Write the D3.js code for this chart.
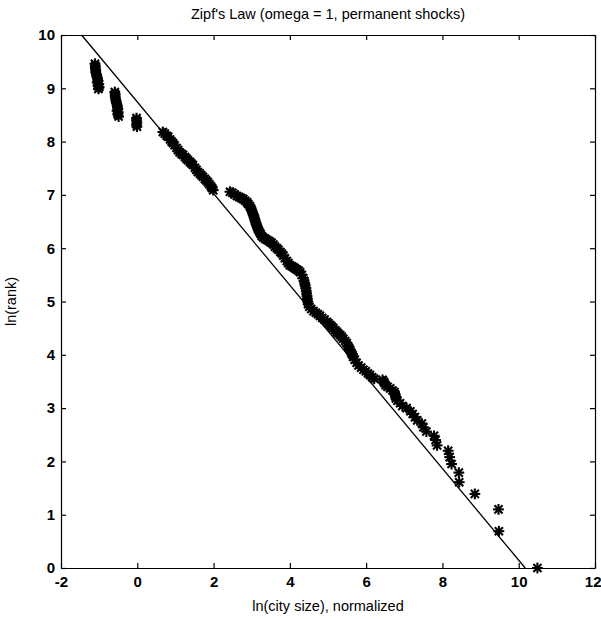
<!DOCTYPE html>
<meta charset="utf-8">
<head>
  <title>Zipf's Law</title>
  <script src="https://cdn.jsdelivr.net/npm/d3@7"></script>
  <style>
    body {
      margin: 0;
      background-color: white;
      font-family: "Liberation Sans", Arial, Helvetica, sans-serif;
    }
    .axis text {
      font-family: "Liberation Sans", Arial, sans-serif;
      font-size: 15px;
      font-weight: bold;
      fill: black;
    }
    .axis path, .axis line {
      stroke: black;
      stroke-width: 1.2;
    }
    .title, .label {
      font-size: 14.5px;
      fill: black;
    }
    .fit {
      fill: none;
      stroke: black;
      stroke-width: 1.3;
    }
    .star line {
      stroke: black;
      stroke-width: 2.1;
    }
  </style>
</head>
<body>
<script>
  // ln(city size), normalized  (x) and ln(rank) (y)
  var lnSize = [
    -1.11, -1.10, -1.10, -1.09, -1.09, -1.07, -1.06, -1.04, -1.03, -1.05, -1.01, -1.03, -1.00, -1.02,
    -0.59, -0.58, -0.58, -0.57, -0.56, -0.55, -0.53, -0.52, -0.51, -0.53, -0.50, -0.51, -0.49,
    -0.02, -0.02, -0.01, -0.02, -0.01,
    0.67, 0.72, 0.77, 0.81, 0.86, 0.90, 0.94, 0.98, 1.03, 1.07, 1.11, 1.16, 1.20, 1.25, 1.29, 1.33,
    1.38, 1.42, 1.46, 1.51, 1.55, 1.59, 1.64, 1.68, 1.72, 1.77, 1.81, 1.85, 1.89, 1.93, 1.96, 1.99,
    2.43, 2.49, 2.55, 2.61, 2.67, 2.73, 2.78, 2.83, 2.88, 2.91, 2.95, 2.98, 3.00, 3.02, 3.04, 3.06,
    3.08, 3.09, 3.11, 3.13, 3.15, 3.17, 3.20, 3.23, 3.26, 3.30, 3.35, 3.39, 3.44, 3.48, 3.52, 3.57,
    3.61, 3.66, 3.70, 3.75, 3.79, 3.83, 3.87, 3.92, 3.96, 4.00, 4.05, 4.10, 4.14, 4.18, 4.23, 4.27,
    4.31, 4.35, 4.37, 4.39, 4.40, 4.42, 4.43, 4.44, 4.45, 4.46, 4.47, 4.48, 4.51, 4.56, 4.62, 4.68,
    4.74, 4.79, 4.85, 4.91, 4.97, 5.01, 5.06, 5.10, 5.14, 5.19, 5.23, 5.27, 5.32, 5.36, 5.40, 5.45,
    5.49, 5.52, 5.55, 5.58, 5.61, 5.64, 5.66, 5.70, 5.75, 5.80, 5.87, 5.93, 5.99, 6.05, 6.10, 6.16,
    6.21,
    6.43, 6.46, 6.48, 6.51, 6.56, 6.63, 6.69, 6.74, 6.76, 6.77, 6.78, 6.82, 6.89, 6.95, 7.06, 7.16,
    7.22, 7.28, 7.34, 7.46, 7.50, 7.58, 7.78, 7.82, 7.86, 8.15, 8.19, 8.24, 8.43, 8.44, 8.85, 9.47,
    9.48, 10.49
  ];
  var lnRank = [
    9.46, 9.42, 9.38, 9.34, 9.30, 9.26, 9.22, 9.18, 9.14, 9.11, 9.08, 9.05, 9.02, 8.99,
    8.93, 8.89, 8.85, 8.81, 8.77, 8.73, 8.69, 8.65, 8.61, 8.58, 8.55, 8.51, 8.47,
    8.44, 8.40, 8.36, 8.32, 8.28,
    8.18, 8.15, 8.11, 8.09, 8.04, 8.00, 7.97, 7.93, 7.88, 7.84, 7.80, 7.77, 7.75, 7.71, 7.68, 7.65,
    7.62, 7.59, 7.56, 7.51, 7.47, 7.43, 7.40, 7.37, 7.34, 7.30, 7.27, 7.24, 7.20, 7.16, 7.13, 7.09,
    7.06, 7.04, 7.01, 6.98, 6.96, 6.94, 6.92, 6.89, 6.86, 6.83, 6.79, 6.75, 6.71, 6.67, 6.63, 6.59,
    6.55, 6.51, 6.47, 6.43, 6.39, 6.35, 6.31, 6.27, 6.23, 6.20, 6.18, 6.16, 6.14, 6.12, 6.10, 6.07,
    6.03, 6.00, 5.97, 5.93, 5.90, 5.86, 5.81, 5.76, 5.72, 5.68, 5.66, 5.64, 5.62, 5.60, 5.58, 5.55,
    5.50, 5.44, 5.39, 5.34, 5.30, 5.25, 5.20, 5.15, 5.10, 5.05, 5.00, 4.95, 4.90, 4.86, 4.82, 4.79,
    4.76, 4.73, 4.69, 4.66, 4.62, 4.59, 4.56, 4.53, 4.50, 4.46, 4.43, 4.40, 4.37, 4.34, 4.30, 4.26,
    4.22, 4.17, 4.13, 4.09, 4.04, 4.00, 3.96, 3.91, 3.85, 3.80, 3.76, 3.72, 3.69, 3.65, 3.62, 3.58,
    3.55,
    3.53, 3.50, 3.47, 3.43, 3.40, 3.37, 3.33, 3.30, 3.26, 3.22, 3.18, 3.14, 3.09, 3.04, 3.00, 2.94,
    2.89, 2.83, 2.77, 2.71, 2.64, 2.56, 2.48, 2.40, 2.30, 2.20, 2.08, 1.95, 1.79, 1.61, 1.39, 1.10,
    0.69, 0.00
  ];

  // fitted Zipf line, two end points
  var fitSize = [-1.46, 10.17];
  var fitRank = [10, 0];

  var xTicks = [-2, 0, 2, 4, 6, 8, 10, 12];
  var yTicks = [0, 1, 2, 3, 4, 5, 6, 7, 8, 9, 10];

  var margin = {top: 35, right: 6, bottom: 51, left: 61};
  var width = 601 - margin.left - margin.right;
  var height = 619 - margin.top - margin.bottom;

  var svg = d3.select("body").append("svg")
    .attr("width", 601)
    .attr("height", 619)
    .append("g")
    .attr("transform", "translate(" + margin.left + "," + margin.top + ")");

  var x = d3.scaleLinear().domain([-2, 12]).range([0, width]);
  var y = d3.scaleLinear().domain([0, 10]).range([height, 0]);

  // plain hyphen like the original, not a unicode minus
  var fmt = function(d) { return String(d); };

  // MATLAB style box with ticks pointing in
  var xAxis = svg.append("g")
    .attr("class", "axis")
    .attr("transform", "translate(0," + height + ")")
    .call(d3.axisBottom(x).tickValues(xTicks).tickSizeInner(-5).tickSizeOuter(0).tickPadding(8).tickFormat(fmt));

  // last label sits against the page edge
  xAxis.selectAll(".tick text")
    .filter(function(d) { return d === 12; })
    .attr("text-anchor", "end")
    .attr("x", 6);

  svg.append("g")
    .attr("class", "axis")
    .call(d3.axisLeft(y).tickValues(yTicks).tickSizeInner(-5).tickSizeOuter(0).tickPadding(6).tickFormat(fmt));

  svg.append("g")
    .attr("class", "axis")
    .call(d3.axisTop(x).tickValues(xTicks).tickSizeInner(-5).tickSizeOuter(0).tickFormat(""));

  svg.append("g")
    .attr("class", "axis")
    .attr("transform", "translate(" + width + ",0)")
    .call(d3.axisRight(y).tickValues(yTicks).tickSizeInner(-5).tickSizeOuter(0).tickFormat(""));

  var line = d3.line()
    .x(function(d) { return x(d[0]); })
    .y(function(d) { return y(d[1]); });

  svg.append("path")
    .attr("class", "fit")
    .attr("d", line(d3.zip(fitSize, fitRank)));

  // '*' markers
  var r = 5.4;
  var stars = svg.selectAll(".star")
    .data(d3.zip(lnSize, lnRank))
    .enter().append("g")
    .attr("class", "star")
    .attr("transform", function(d) { return "translate(" + x(d[0]) + "," + y(d[1]) + ")"; });

  stars.append("line").attr("x1", -r).attr("x2", r).attr("y1", 0).attr("y2", 0);
  stars.append("line").attr("x1", 0).attr("x2", 0).attr("y1", -r).attr("y2", r);
  stars.append("line").attr("x1", -r * 0.75).attr("x2", r * 0.75).attr("y1", -r * 0.75).attr("y2", r * 0.75);
  stars.append("line").attr("x1", -r * 0.75).attr("x2", r * 0.75).attr("y1", r * 0.75).attr("y2", -r * 0.75);

  svg.append("text")
    .attr("class", "title")
    .attr("x", width / 2)
    .attr("y", -16)
    .attr("text-anchor", "middle")
    .text("Zipf's Law (omega = 1, permanent shocks)");

  svg.append("text")
    .attr("class", "label")
    .attr("x", width / 2)
    .attr("y", height + 43)
    .attr("text-anchor", "middle")
    .text("ln(city size), normalized");

  svg.append("text")
    .attr("class", "label")
    .attr("transform", "translate(-45," + (height / 2) + ") rotate(-90)")
    .attr("text-anchor", "middle")
    .text("ln(rank)");
</script>
</body>
</html>
